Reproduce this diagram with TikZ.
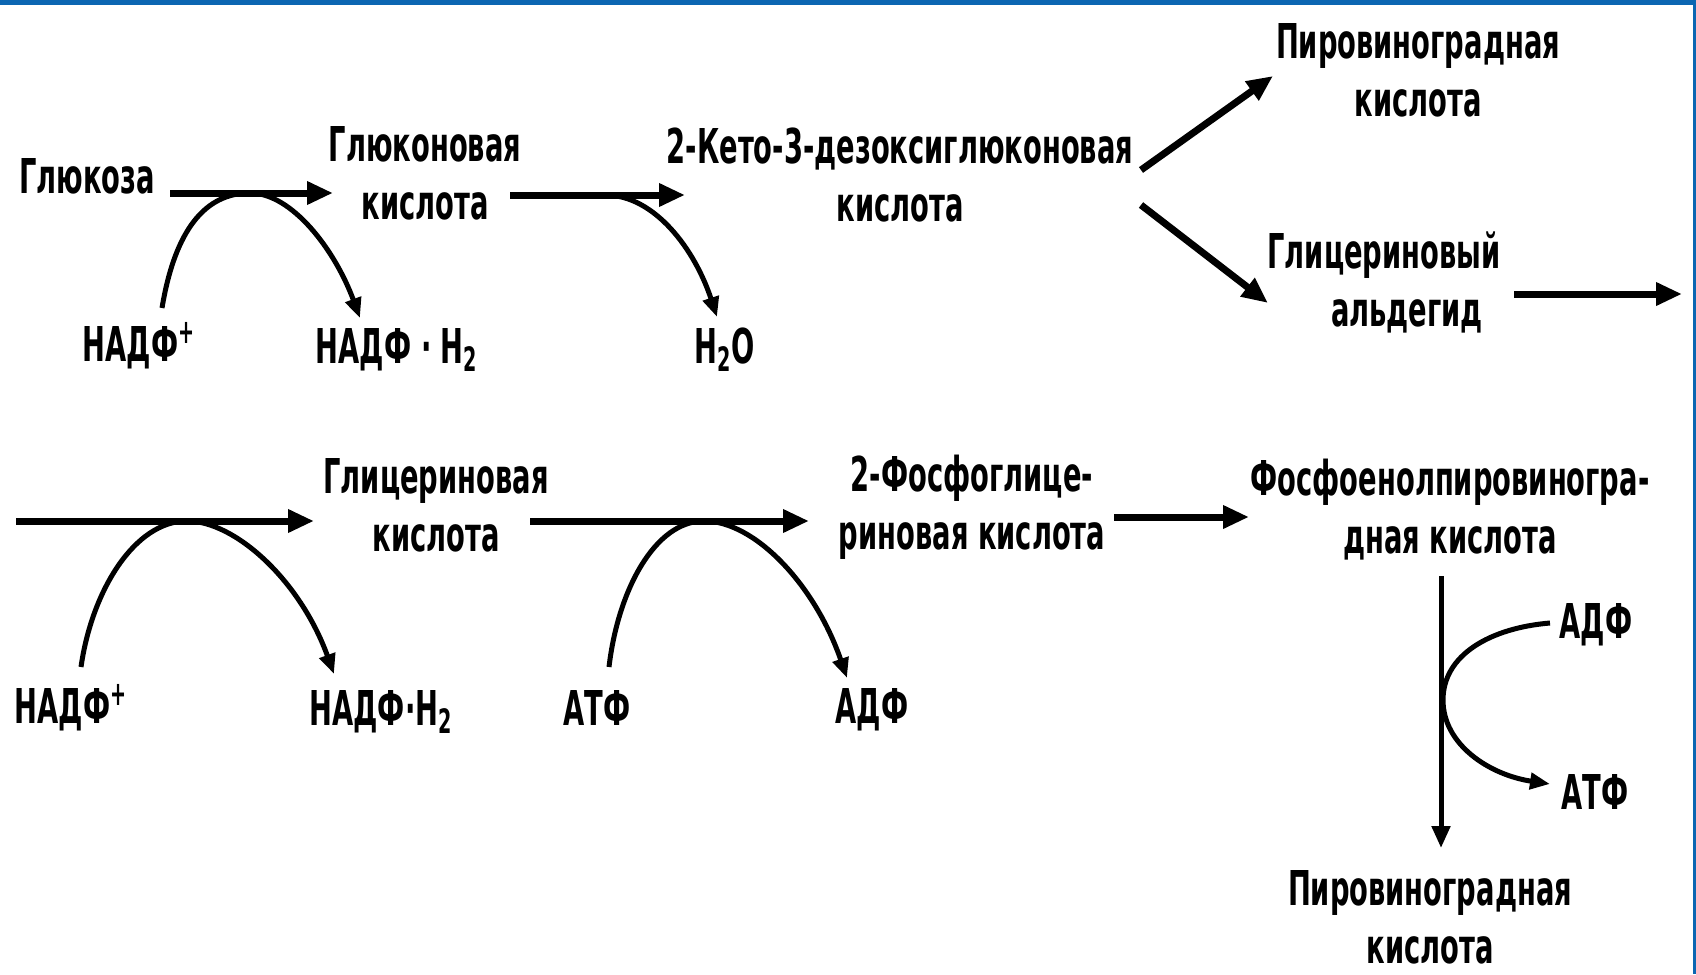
\documentclass[tikz,border=0pt]{standalone}
\usepackage{fontspec}
\setmainfont{DejaVu Sans}[FakeStretch=0.57]
\usetikzlibrary{arrows.meta}
\definecolor{frameblue}{RGB}{12,102,178}
\begin{document}
\begin{tikzpicture}[x=0.5pt,y=-0.5pt,
  lbl/.style={font=\fontsize{24}{29}\selectfont\bfseries, inner sep=0pt, align=center},
  mainarr/.style={line width=3.5pt, -{Triangle[length=13pt,width=11pt]}},
  sidearr/.style={line width=2.5pt, -{Triangle[length=10pt,width=8pt]}}]
\useasboundingbox (0,0) rectangle (1696,974);
\fill[white] (0,0) rectangle (1696,974);
\fill[frameblue] (0,0) rectangle (1696,5);
\fill[frameblue] (1693,0) rectangle (1696,974);

% ---------- row 1 ----------
\node[lbl] (glu) at (87,176) {Глюкоза};
\node[lbl] (glk) at (425,173) {Глюконовая\\кислота};
\node[lbl] (nadp1) at (139,346) {НАДФ\textsuperscript{+}};
\node[lbl] (nadph1) at (397,350) {НАДФ · H\textsubscript{2}};
\node[lbl] (h2o) at (725,350) {H\textsubscript{2}O};
\node[lbl] (kdg) at (900,175) {2-Кето-3-дезоксиглюконовая\\кислота};
\node[lbl] (pyr1) at (1418,70) {Пировиноградная\\кислота};
\node[lbl] (gald) at (1384,282) {Глицериновый\\\hspace*{23pt}альдегид};

\coordinate (a1s) at (170,193);  \coordinate (a1e) at (333,193);
\coordinate (c1s) at (162,308);  \coordinate (c1t) at (250,193); \coordinate (c1e) at (360,318);
\coordinate (a2s) at (510,195);  \coordinate (a2e) at (685,195);
\coordinate (c2s) at (605,195);  \coordinate (c2e) at (717,317);
\coordinate (a3s) at (1141,170); \coordinate (a3e) at (1273,76);
\coordinate (a4s) at (1141,205); \coordinate (a4e) at (1268,303);
\coordinate (a5s) at (1514,294); \coordinate (a5e) at (1682,294);

\draw[mainarr] (a1s) -- (a1e);
\draw[sidearr] (c1s) .. controls (175,230) and (205,193) .. (c1t)
               .. controls (292,193) and (335,250) .. (c1e);
\draw[mainarr] (a2s) -- (a2e);
\draw[sidearr] (c2s) .. controls (655,195) and (695,250) .. (c2e);
\draw[mainarr] (a3s) -- (a3e);
\draw[mainarr] (a4s) -- (a4e);
\draw[mainarr] (a5s) -- (a5e);

% ---------- row 2 ----------
\node[lbl] (nadp2) at (71,708) {НАДФ\textsuperscript{+}};
\node[lbl] (nadph2) at (381,712) {НАДФ·H\textsubscript{2}};
\node[lbl] (glyc) at (436,505) {Глицериновая\\кислота};
\node[lbl] (atf1) at (597,708) {АТФ};
\node[lbl] (adf1) at (872,710) {АДФ};
\node[lbl] (pg) at (972,507) {2-Фосфоглице-\\риновая кислота};
\node[lbl] (pep) at (1450,510) {Фосфоенолпировиногра-\\дная кислота};
\node[lbl] (adf2) at (1596,625) {АДФ};
\node[lbl] (atf2) at (1595,792) {АТФ};
\node[lbl] (pyr2) at (1430,917) {Пировиноградная\\кислота};

\coordinate (b1s) at (16,521);   \coordinate (b1e) at (314,521);
\coordinate (d1s) at (81,667);   \coordinate (d1t) at (187,521); \coordinate (d1e) at (334,674);
\coordinate (b2s) at (530,521);  \coordinate (b2e) at (809,521);
\coordinate (d2s) at (609,667);  \coordinate (d2t) at (704,521); \coordinate (d2e) at (847,678);
\coordinate (b3s) at (1114,517); \coordinate (b3e) at (1249,517);
\coordinate (vs) at (1441,576);  \coordinate (ve) at (1441,848);
\coordinate (es) at (1550,623);  \coordinate (et) at (1443,700); \coordinate (ee) at (1550,784);

\draw[mainarr] (b1s) -- (b1e);
\draw[sidearr] (d1s) .. controls (92,590) and (135,521) .. (d1t)
               .. controls (235,521) and (300,580) .. (d1e);
\draw[mainarr] (b2s) -- (b2e);
\draw[sidearr] (d2s) .. controls (618,590) and (655,521) .. (d2t)
               .. controls (755,521) and (815,585) .. (d2e);
\draw[mainarr] (b3s) -- (b3e);
\draw[line width=2.5pt, -{Triangle[length=11pt,width=9pt]}] (vs) -- (ve);
\draw[sidearr] (es) .. controls (1490,628) and (1443,655) .. (et)
               .. controls (1443,745) and (1490,775) .. (ee);
\end{tikzpicture}
\end{document}
